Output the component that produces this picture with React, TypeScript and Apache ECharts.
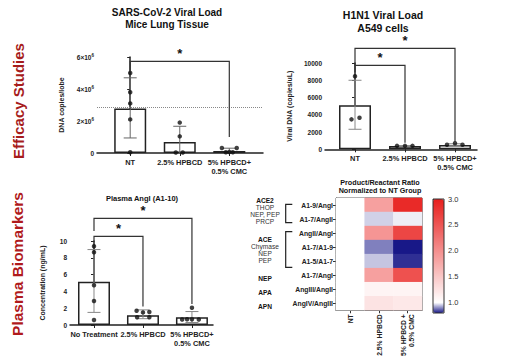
import React, { useEffect, useRef } from 'react';
import * as echarts from 'echarts';

// ---------- data ----------
const sarsCats = ['NT', '2.5% HPBCD', '5% HPBCD+\n0.5% CMC'];
const sarsMeans = [2.78e6, 0.69e6, 0.12e6];
const sarsErr = [[0, 0.94e6, 4.7e6], [1, 0, 1.67e6], [2, 0, 0.3e6]];
const sarsPoints = [
  [0, 5.0e6], [0, 3.8e6], [0, 3.1e6], [0, 2.1e6], [0, 0.05e6],
  [1, 1.9e6], [1, 1.04e6], [0.92, 0.03e6], [1.06, 0.03e6],
  [1.85, 0.31e6], [2.15, 0.31e6], [1.93, 0.05e6], [2.0, 0.06e6], [2.07, 0.05e6],
];
const sarsBrackets = [[0, 2, 5.73e6, 5.1e6, 1.0e6]];
const sarsRefLine = 2.85e6;

const h1n1Cats = ['NT', '2.5% HPBCD', '5% HPBCD+\n0.5% CMC'];
const h1n1Means = [5100, 380, 500];
const h1n1Err = [[0, 2320, 8000], [1, 330, 430], [2, 420, 640]];
const h1n1Points = [
  [0, 8460], [-0.07, 3470], [0.09, 3660],
  [0.84, 400], [1.0, 400], [1.15, 400],
  [1.84, 530], [2.0, 700], [2.15, 530],
];
const h1n1Brackets = [[0, 1, 9730, 8930, 760], [0, 2, 11700, 9730, 840]];

const plasmaCats = ['No Treatment', '2.5% HPBCD', '5% HPBCD+\n0.5% CMC'];
const plasmaMeans = [5.15, 1.16, 0.91];
const plasmaErr = [[0, 1.5, 8.98], [1, 0.75, 1.8], [2, 0.3, 1.6]];
const plasmaPoints = [
  [0, 9.37], [0, 8.66], [0, 4.74], [0, 2.85], [0, 0.59],
  [0.87, 1.7], [1.0, 1.5], [1.13, 1.55], [0.88, 0.92], [1.13, 0.92],
  [1.8, 0.65], [1.9, 0.68], [2.0, 0.68], [2.14, 0.66], [2.0, 2.05],
];
const plasmaBrackets = [[0, 1, 10.56, 9.88, 2.2], [0, 2, 12.7, 11.2, 2.5]];

const hmCols = ['NT', '2.5% HPBCD', '5% HPBCD +\n0.5% CMC'];
const hmRows = ['A1-9/AngI', 'A1-7/AngII', 'AngII/AngI', 'A1-7/A1-9', 'A1-5/A1-7', 'A1-7/AngI', 'AngIII/AngII', 'AngIV/AngIII'];
const hmNT = [1, 1, 1, 1, 1, 1, 1, 1];
const hm25 = [1.85, 0.96, 1.95, 0.89, 0.95, 1.85, 1.1, 1.25];
const hm5 = [2.9, 0.985, 2.65, 0.8, 0.82, 2.55, 1.1, 1.2];
const cbTicks = [1.0, 1.5, 2.0, 2.5, 3.0];

const groupLabels = [
  { t: 'ACE2', y: 200, b: true }, { t: 'THOP', y: 207, b: false }, { t: 'NEP, PEP', y: 214.2, b: false }, { t: 'PRCP', y: 221.6, b: false },
  { t: 'ACE', y: 239.3, b: true }, { t: 'Chymase', y: 246.5, b: false }, { t: 'NEP', y: 253.7, b: false }, { t: 'PEP', y: 260.9, b: false },
  { t: 'NEP', y: 278.3, b: true }, { t: 'APA', y: 292, b: true }, { t: 'APN', y: 306.5, b: true },
];

// ---------- helpers ----------
const AX = '#222';
const LABEL_FONT = 'Liberation Sans';

function lerpColor(a: number[], b: number[], t: number) {
  const c = a.map((v, i) => Math.round(v + (b[i] - v) * t));
  return `rgb(${c[0]},${c[1]},${c[2]})`;
}
const NAVY = [24, 24, 136];
const WHITE = [255, 255, 255];
const RED = [232, 30, 28];
const rampColors: string[] = [];
for (let i = 0; i <= 11; i++) {
  const v = 0.8 + i * 0.2;
  if (v <= 1.0001) rampColors.push(lerpColor(NAVY, WHITE, (v - 0.8) / 0.2));
  else rampColors.push(lerpColor(WHITE, RED, (v - 1.0) / 2.0));
}

function errRender(color: string) {
  return (params: any, api: any) => {
    const x = api.value(0), lo = api.value(1), hi = api.value(2);
    const pLo = api.coord([x, Math.max(lo, 0)]);
    const pHi = api.coord([x, hi]);
    const half = 6.5;
    const st = { stroke: color, lineWidth: 1 };
    const children: any[] = [
      { type: 'line', shape: { x1: pHi[0], y1: pHi[1], x2: pLo[0], y2: pLo[1] }, style: st },
      { type: 'line', shape: { x1: pHi[0] - half, y1: pHi[1], x2: pHi[0] + half, y2: pHi[1] }, style: st },
    ];
    if (lo > 0) children.push({ type: 'line', shape: { x1: pLo[0] - half, y1: pLo[1], x2: pLo[0] + half, y2: pLo[1] }, style: st });
    return { type: 'group', children };
  };
}

function bracketRender(params: any, api: any) {
  const x1 = api.value(0), x2 = api.value(1), yt = api.value(2), yl = api.value(3), yr = api.value(4);
  const a = api.coord([x1, yl]);
  const b = api.coord([x1, yt]);
  const c = api.coord([x2, yt]);
  const d = api.coord([x2, yr]);
  return {
    type: 'group',
    children: [
      { type: 'polyline', shape: { points: [a, b, c, d] }, style: { stroke: '#333', lineWidth: 1.2, fill: 'none' } },
      {
        type: 'text',
        style: {
          x: (b[0] + c[0]) / 2, y: b[1] - 1, text: '*', fill: '#111',
          font: 'bold 13px Liberation Sans', textAlign: 'center', textVerticalAlign: 'bottom',
        },
      },
    ],
  };
}

function panelSeries(idx: number, means: number[], err: number[][], pts: number[][], brackets: number[][], errColor: string, extra?: any) {
  const bar: any = {
    type: 'bar', xAxisIndex: idx, yAxisIndex: idx,
    data: means.map((v, i) => [i, v]),
    barWidth: 32,
    itemStyle: { color: '#fff', borderColor: AX, borderWidth: 1.5 },
    z: 2,
  };
  if (extra) Object.assign(bar, extra);
  return [
    bar,
    { type: 'custom', xAxisIndex: idx, yAxisIndex: idx, data: err, renderItem: errRender(errColor), clip: false, z: 3 },
    { type: 'scatter', xAxisIndex: idx, yAxisIndex: idx, data: pts, symbolSize: 4.5, itemStyle: { color: '#111' }, z: 4 },
    { type: 'custom', xAxisIndex: idx, yAxisIndex: idx, data: brackets, renderItem: bracketRender, clip: false, z: 5 },
  ];
}

function catXAxis(idx: number, min: number, max: number, cats: string[]) {
  return {
    type: 'value', gridIndex: idx, min, max,
    splitLine: { show: false },
    axisLine: { show: true, onZero: false, lineStyle: { color: AX, width: 1.5 } },
    axisTick: { show: true, customValues: [0, 1, 2], length: 3, lineStyle: { color: AX, width: 1 } },
    axisLabel: {
      customValues: [0, 1, 2], formatter: (v: number) => cats[Math.round(v)],
      fontSize: 7.4, fontWeight: 'bold', color: '#222', fontFamily: LABEL_FONT, margin: 5, lineHeight: 9,
    },
  };
}

function valYAxis(idx: number, max: number, interval: number, name: string, nameGap: number, formatter?: any, rich?: any) {
  return {
    type: 'value', gridIndex: idx, min: 0, max, interval,
    name, nameLocation: 'middle', nameGap, nameRotate: 90,
    nameTextStyle: { fontSize: 7, fontWeight: 'bold', color: '#222', fontFamily: LABEL_FONT },
    splitLine: { show: false },
    axisLine: { show: true, lineStyle: { color: AX, width: 1.5 } },
    axisTick: { show: true, length: 3, lineStyle: { color: AX, width: 1 } },
    axisLabel: { fontSize: 6.5, fontWeight: 'bold', color: '#222', fontFamily: LABEL_FONT, margin: 3, formatter: formatter || ((v: number) => String(v)), rich },
  };
}

function text(t: string, x: number, y: number, font: string, fill = '#111', align = 'center', rotation = 0) {
  return { type: 'text', x, y, rotation, style: { text: t, font, fill, textAlign: align, textVerticalAlign: 'middle' }, z: 100 };
}

export default function App() {
  const ref = useRef<HTMLDivElement>(null);
  useEffect(() => {
    if (!ref.current) return;
    const chart = echarts.init(ref.current, null, { renderer: 'svg' });

    const heatData: number[][] = [];
    hmRows.forEach((_, r) => {
      heatData.push([0, r, hmNT[r]]);
      heatData.push([1, r, hm25[r]]);
      heatData.push([2, r, hm5[r]]);
    });

    const sarsFmt = (v: number) => (v === 0 ? '0' : `${v / 1e6}×10{s|6}`);

    const graphic: any[] = [
      text('Efficacy Studies', 18.5, 101, 'bold 15px Liberation Sans', '#a61c1c', 'center', Math.PI / 2),
      text('Plasma Biomarkers', 17.5, 264, 'bold 15.5px Liberation Sans', '#b01a1c', 'center', Math.PI / 2),
      text('SARS-CoV-2 Viral Load', 167, 12, 'bold 10px Liberation Sans'),
      text('Mice Lung Tissue', 167, 24.5, 'bold 10px Liberation Sans'),
      text('H1N1 Viral Load', 383, 15, 'bold 10.5px Liberation Sans'),
      text('A549 cells', 383, 28, 'bold 10.5px Liberation Sans'),
      text('Plasma AngI (A1-10)', 142, 198, 'bold 7.5px Liberation Sans'),
      text('Product/Reactant Ratio', 380, 182, 'bold 7.2px Liberation Sans'),
      text('Normalized to NT Group', 380, 190.5, 'bold 7.2px Liberation Sans'),
      { type: 'polyline', shape: { points: [[292.3, 204.3], [285.7, 204.3], [285.7, 222.7], [292.3, 222.7]] }, style: { stroke: '#222', lineWidth: 1.2, fill: 'none' }, z: 100 },
      { type: 'polyline', shape: { points: [[292.3, 231.7], [285.7, 231.7], [285.7, 267.3], [292.3, 267.3]] }, style: { stroke: '#222', lineWidth: 1.2, fill: 'none' }, z: 100 },
      { type: 'rect', shape: { x: 433, y: 199, width: 11, height: 114 }, style: { fill: 'none', stroke: '#333', lineWidth: 1 }, z: 100 },
    ];
    groupLabels.forEach((g) => {
      graphic.push(text(g.t, 265, g.y, (g.b ? 'bold ' : '') + '6.6px Liberation Sans', g.b ? '#111' : '#333'));
    });

    const option: any = {
      animation: false,
      backgroundColor: '#fff',
      grid: [
        { left: 97, top: 57, width: 166, height: 96 },
        { left: 325, top: 63, width: 152, height: 86.3 },
        { left: 70, top: 241, width: 143, height: 84 },
        { left: 336, top: 198, width: 86, height: 115, show: true, borderColor: '#333', borderWidth: 1 },
        { left: 433, top: 199, width: 11, height: 114 },
      ],
      xAxis: [
        catXAxis(0, -0.67, 2.68, sarsCats),
        catXAxis(1, -0.6, 2.44, h1n1Cats),
        catXAxis(2, -0.49, 2.43, plasmaCats),
        {
          type: 'category', gridIndex: 3, data: hmCols,
          axisLine: { show: true, lineStyle: { color: '#333', width: 1 } },
          axisTick: { show: true, alignWithLabel: true, length: 3, lineStyle: { color: '#333' } },
          axisLabel: { rotate: 90, fontSize: 6.8, fontWeight: 'bold', color: '#222', fontFamily: LABEL_FONT, margin: 4, lineHeight: 8 },
          splitLine: { show: false },
        },
        { type: 'value', gridIndex: 4, show: false, min: 0, max: 1 },
      ],
      yAxis: [
        valYAxis(0, 6e6, 2e6, 'DNA copies/lobe', 32, sarsFmt, { s: { fontSize: 4.5, fontWeight: 'bold', verticalAlign: 'top', padding: [0, 0, 4, 0] } }),
        valYAxis(1, 10000, 2000, 'Viral DNA (copies/uL)', 32),
        valYAxis(2, 10, 2, 'Concentration (ng/mL)', 24),
        {
          type: 'category', gridIndex: 3, data: hmRows, inverse: true,
          axisLine: { show: true, lineStyle: { color: '#333', width: 1 } },
          axisTick: { show: true, alignWithLabel: true, length: 3, lineStyle: { color: '#333' } },
          axisLabel: { fontSize: 6.8, fontWeight: 'bold', color: '#222', fontFamily: LABEL_FONT, margin: 3 },
          splitLine: { show: false },
        },
        {
          type: 'value', gridIndex: 4, min: 0.8, max: 3.0, position: 'right',
          splitLine: { show: false },
          axisLine: { show: false },
          axisTick: { show: true, customValues: cbTicks, length: 2.5, lineStyle: { color: '#333' } },
          axisLabel: { customValues: cbTicks, formatter: (v: number) => v.toFixed(1), fontSize: 7.5, color: '#333', fontFamily: LABEL_FONT, margin: 4 },
        },
      ],
      visualMap: {
        type: 'continuous', seriesIndex: 12, dimension: 2, min: 0.8, max: 3.0,
        show: true, calculable: false, left: 433, top: 199, itemWidth: 11, itemHeight: 114, padding: 0,
        inRange: { color: rampColors }, text: null, showLabel: false,
      },
      graphic,
      series: [
        ...panelSeries(0, sarsMeans, sarsErr, sarsPoints, sarsBrackets, '#666', {
          markLine: {
            silent: true, symbol: 'none', label: { show: false },
            lineStyle: { type: 'dotted', color: '#888', width: 1 },
            data: [{ yAxis: sarsRefLine }],
          },
        }),
        ...panelSeries(1, h1n1Means, h1n1Err, h1n1Points, h1n1Brackets, '#888'),
        ...panelSeries(2, plasmaMeans, plasmaErr, plasmaPoints, plasmaBrackets, '#888'),
        { type: 'heatmap', xAxisIndex: 3, yAxisIndex: 3, data: heatData, itemStyle: { borderWidth: 0 } },
        { type: 'scatter', xAxisIndex: 4, yAxisIndex: 4, data: [], silent: true },
      ],
    };
    chart.setOption(option);
    return () => chart.dispose();
  }, []);

  return (
    <div
      ref={ref}
      style={{ position: 'absolute', left: 0, top: 0, width: 512, height: 359, background: '#fff' }}
    />
  );
}
